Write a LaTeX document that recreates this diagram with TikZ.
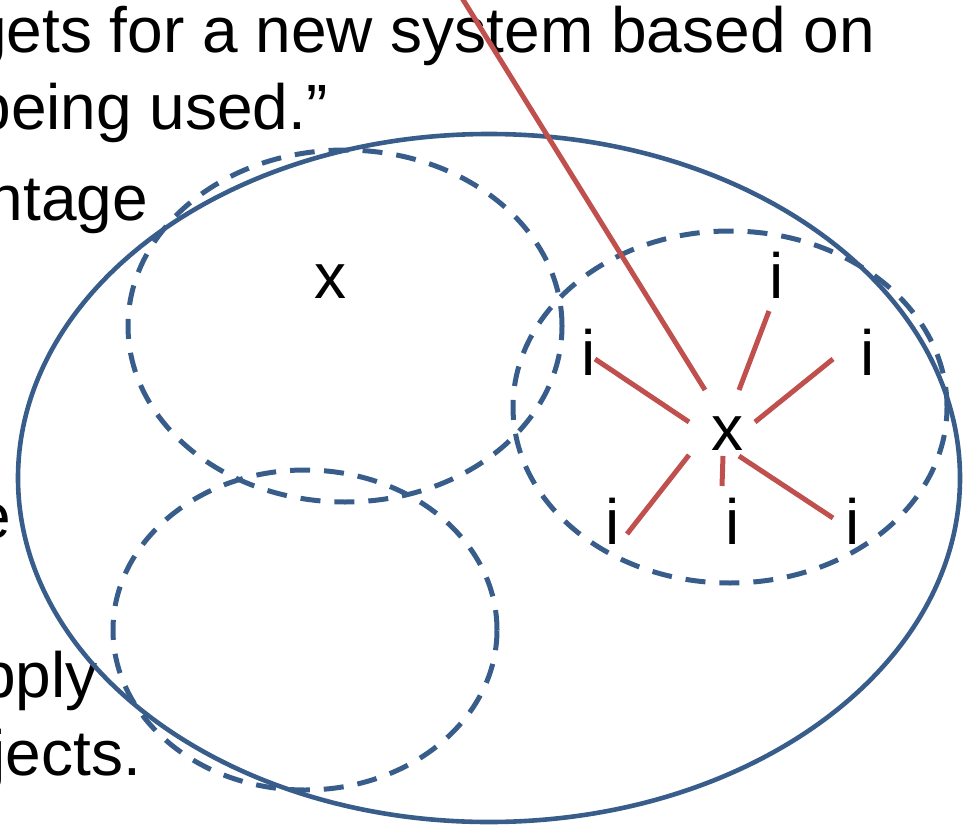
\documentclass[tikz,border=0pt]{standalone}
\usepackage{fontspec}
\setmainfont{Liberation Sans}
\definecolor{ablue}{HTML}{385D8A}
\definecolor{ared}{HTML}{C0504D}
\begin{document}
\begin{tikzpicture}[x=1pt,y=-1pt,
  solidring/.style={draw=ablue,line width=4.6pt},
  dashring/.style={draw=ablue,line width=5pt,dash pattern=on 20pt off 14pt},
  redline/.style={draw=ared,line width=5pt},
  body/.style={font=\fontsize{64}{75}\selectfont,inner sep=0pt,anchor=base east},
  lbl/.style={font=\fontsize{64}{75}\selectfont,inner sep=0pt}]
\useasboundingbox (0,0) rectangle (963,824);

% body text (cut at the left edge)
\node[body] (t1) at (875,53) {gets for a new system based on};
\node[body] (t2) at (328,129) {being used.”};
\node[body] (t3) at (148,220) {ntage};
\node[body] (t4) at (11,538) {e};
\node[body] (t5) at (98,697) {pply};
\node[body] (t6) at (141,775) {jects.};

% rings
\draw[dashring] (345,326) ellipse [x radius=217pt, y radius=176pt];
\draw[dashring] (305,630) ellipse [x radius=192pt, y radius=160pt];
\draw[dashring] (730,407) ellipse [x radius=217pt, y radius=176pt];
\draw[solidring] (489,478) ellipse [x radius=471pt, y radius=344pt];

% labels
\node[lbl] (xa) at (330,282) {x};
\node[lbl] (xc) at (727,434) {x};
\node[lbl] (it) at (777,275) {i};
\node[lbl] (il) at (589,352) {i};
\node[lbl] (ir) at (868,352) {i};
\node[lbl] (ibl) at (613,521) {i};
\node[lbl] (ibm) at (733,521) {i};
\node[lbl] (ibr) at (853,521) {i};

% line end points
\coordinate (top) at (462,-2);
\coordinate (cL) at (705,390);
\coordinate (cT1) at (739,390);  \coordinate (eT) at (769,311);
\coordinate (cR1) at (755,422);  \coordinate (eR) at (833,359);
\coordinate (cL1) at (689,422);  \coordinate (eL) at (595,359);
\coordinate (cBL) at (689,455);  \coordinate (eBL) at (627,534);
\coordinate (cBM) at (723,456);  \coordinate (eBM) at (722,486);
\coordinate (cBR) at (739,456);  \coordinate (eBR) at (833,518);

\draw[redline] (top) -- (cL);
\draw[redline] (cT1) -- (eT);
\draw[redline] (cR1) -- (eR);
\draw[redline] (cL1) -- (eL);
\draw[redline] (cBL) -- (eBL);
\draw[redline] (cBM) -- (eBM);
\draw[redline] (cBR) -- (eBR);
\end{tikzpicture}
\end{document}
